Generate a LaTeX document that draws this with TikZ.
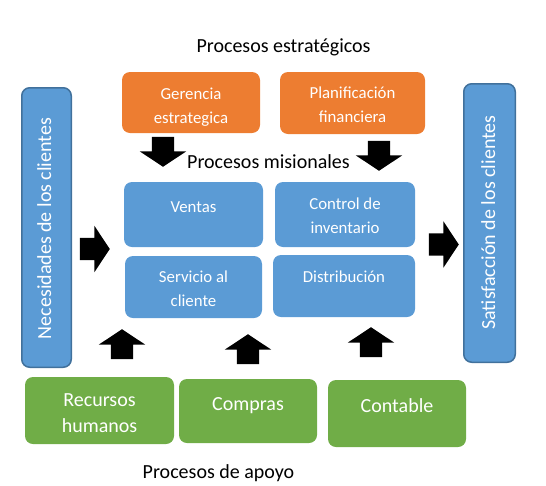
\documentclass[tikz,border=0pt]{standalone}
\usepackage{fontspec}
\setmainfont{Carlito}
\usetikzlibrary{shapes.arrows}

\definecolor{orangebox}{HTML}{ED7D31}
\definecolor{bluebox}{HTML}{5B9BD5}
\definecolor{greenbox}{HTML}{70AD47}
\definecolor{blueline}{HTML}{41719C}

\tikzset{
  orangebox/.style={rectangle, rounded corners=8pt, fill=orangebox, inner sep=0pt},
  bluebox/.style={rectangle, rounded corners=8pt, fill=bluebox, inner sep=0pt},
  greenbox/.style={rectangle, rounded corners=8pt, fill=greenbox, inner sep=0pt},
  sidebox/.style={rectangle, rounded corners=8pt, fill=bluebox, draw=blueline, line width=1.5pt, inner sep=0pt},
  smalltext/.style={text=white, align=center, inner sep=0pt, font=\fontsize{16.8}{24}\selectfont},
  bigtext/.style={text=white, align=center, inner sep=0pt, font=\fontsize{20}{25.5}\selectfont},
  titletext/.style={text=black, inner sep=0pt, font=\fontsize{20}{24}\selectfont},
  blockarrow/.style={single arrow, fill=black, minimum height=30pt, minimum width=46pt,
    single arrow head extend=12pt, single arrow tip angle=113, anchor=tip},
  rightarrow/.style={blockarrow, inner xsep=0pt, inner ysep=11pt},
  downarrow/.style={blockarrow, inner xsep=11pt, inner ysep=0pt, shape border rotate=270},
  uparrow/.style={blockarrow, inner xsep=11pt, inner ysep=0pt, shape border rotate=90}
}

\begin{document}
\begin{tikzpicture}[x=1pt,y=-1pt]
\useasboundingbox (0,0) rectangle (546,485);

% titles
\node[titletext, anchor=base] (estrategicos) at (283.5,52) {Procesos estratégicos};
\node[titletext, anchor=base] (misionales) at (268.5,168) {Procesos misionales};
\node[titletext, anchor=base] (apoyo) at (218.5,478) {Procesos de apoyo};

% strategic processes
\node[orangebox, minimum width=138pt, minimum height=61pt] (gerencia) at (191,102.5) {};
\node[orangebox, minimum width=145pt, minimum height=62pt] (planif) at (352.5,103) {};
\node[smalltext] (gerencia-t) at (191,107) {Gerencia\\estrategica};
\node[smalltext] (planif-t) at (352.5,105) {Planificación\\financiera};

% mission processes
\node[bluebox, minimum width=139pt, minimum height=65pt] (ventas) at (193.5,214.5) {};
\node[bluebox, minimum width=140pt, minimum height=65pt] (control) at (345,214.5) {};
\node[bluebox, minimum width=137pt, minimum height=62pt] (servicio) at (193.5,287) {};
\node[bluebox, minimum width=142pt, minimum height=62pt] (distrib) at (344,286) {};
\node[smalltext, anchor=base] (ventas-t) at (193.5,212) {Ventas};
\node[smalltext] (control-t) at (345,215.6) {Control de\\inventario};
\node[smalltext] (servicio-t) at (193.5,288.6) {Servicio al\\cliente};
\node[smalltext, anchor=base] (distrib-t) at (344,282) {Distribución};

% clients
\node[sidebox, minimum width=49.5pt, minimum height=279.5pt] (necesidades) at (46.5,227.5) {};
\node[sidebox, minimum width=51.5pt, minimum height=278.5pt] (satisfaccion) at (489.5,223) {};
\node[bigtext, rotate=90, anchor=base] (necesidades-t) at (51,228.5) {Necesidades de los clientes};
\node[bigtext, rotate=90, anchor=base] (satisfaccion-t) at (495,222.5) {Satisfacción de los clientes};

% support processes
\node[greenbox, minimum width=149pt, minimum height=67pt] (recursos) at (99.5,410.5) {};
\node[greenbox, minimum width=138pt, minimum height=64pt] (compras) at (248,411) {};
\node[greenbox, minimum width=138pt, minimum height=67pt] (contable) at (397,413.5) {};
\node[bigtext] (recursos-t) at (99.5,413) {Recursos\\humanos};
\node[bigtext, anchor=base] (compras-t) at (248,410) {Compras};
\node[bigtext, anchor=base] (contable-t) at (397,412) {Contable};

% block arrows
\node[downarrow] (flecha1) at (163,167) {};
\node[downarrow] (flecha2) at (379,171) {};
\node[rightarrow] (flecha3) at (110,249) {};
\node[rightarrow] (flecha4) at (459,244.5) {};
\node[uparrow] (flecha5) at (122,329) {};
\node[uparrow] (flecha6) at (248,334) {};
\node[uparrow] (flecha7) at (371,327) {};
\end{tikzpicture}
\end{document}
